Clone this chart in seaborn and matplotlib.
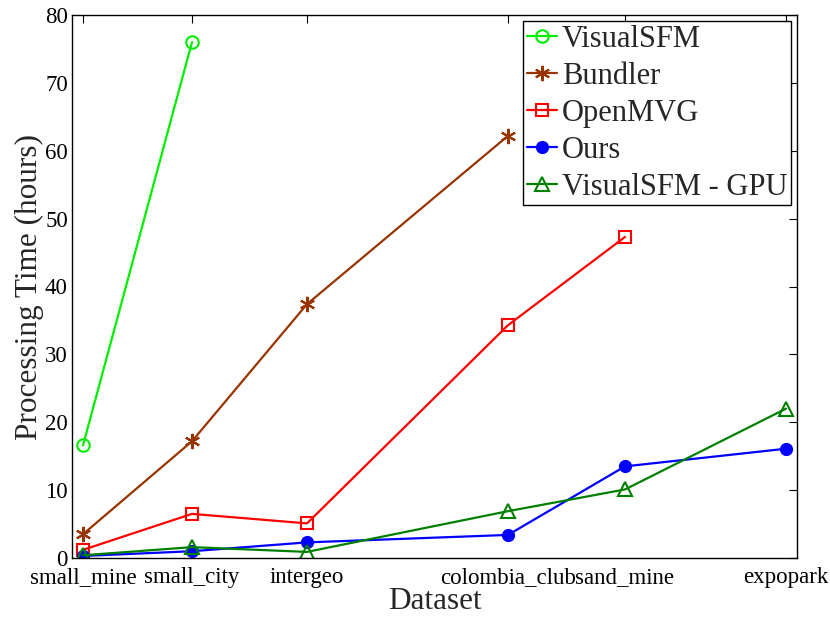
import matplotlib
matplotlib.use("Agg")
import matplotlib.pyplot as plt
import seaborn as sns
import pandas as pd

datasets = ["small_mine", "small_city", "intergeo", "colombia_club", "sand_mine", "expopark"]
dataset_pos = [0, 109, 224, 425, 542, 703]

visualsfm = [16.6, 76.0]
bundler = [3.5, 17.2, 37.4, 62.2]
openmvg = [1.2, 6.5, 5.1, 34.3, 47.3]
ours = [0.3, 1.0, 2.3, 3.4, 13.5, 16.1]
visualsfm_gpu = [0.4, 1.6, 0.9, 6.9, 10.1, 22.0]

series = [
    ("VisualSFM", visualsfm, "#00ee00", "o", "none", 9),
    ("Bundler", bundler, "#993300", (6, 2, 0), "#993300", 11),
    ("OpenMVG", openmvg, "#ff0000", "s", "none", 8),
    ("Ours", ours, "#0000ff", "o", "#0000ff", 8),
    ("VisualSFM - GPU", visualsfm_gpu, "#008000", "^", "none", 10),
]

sns.set_style("white")
plt.rcParams["font.family"] = ["Liberation Serif", "DejaVu Serif"]

fig = plt.figure(figsize=(8.3, 6.17), dpi=100)
ax = fig.add_axes([72 / 830, 1 - 558 / 617, (797 - 72) / 830, (558 - 15) / 617])

for name, vals, col, mk, fc, ms in series:
    df = pd.DataFrame({"x": dataset_pos[:len(vals)], "y": vals})
    sns.lineplot(data=df, x="x", y="y", ax=ax, color=col, marker=mk,
                 markerfacecolor=fc, markeredgecolor=col, markeredgewidth=1.5,
                 markersize=ms, linewidth=1.6, label=name, sort=False)

ax.set_xlim(-11, 714)
ax.set_ylim(0, 80)
ax.set_xticks(dataset_pos)
ax.set_xticklabels(datasets)
ax.set_yticks(range(0, 81, 10))
ax.tick_params(axis="both", which="both", direction="in", length=6, width=0.8,
               top=True, right=True, labelsize=16.5, colors="black")
ax.tick_params(axis="y", pad=3)
ax.tick_params(axis="x", pad=6.5)
for sp in ax.spines.values():
    sp.set_visible(True)
    sp.set_color("black")
    sp.set_linewidth(1.0)
ax.set_xlabel("Dataset", fontsize=22.5, labelpad=-1)
ax.set_ylabel("Processing Time (hours)", fontsize=22.5, labelpad=1)

leg = ax.legend(loc="upper right", fontsize=22, handlelength=1.0,
                handletextpad=0.15, labelspacing=0.26, borderpad=0.12,
                borderaxespad=0.2, fancybox=False, framealpha=1,
                edgecolor="black")
leg.get_frame().set_linewidth(1.0)

fig.savefig("out.png", dpi=100)
